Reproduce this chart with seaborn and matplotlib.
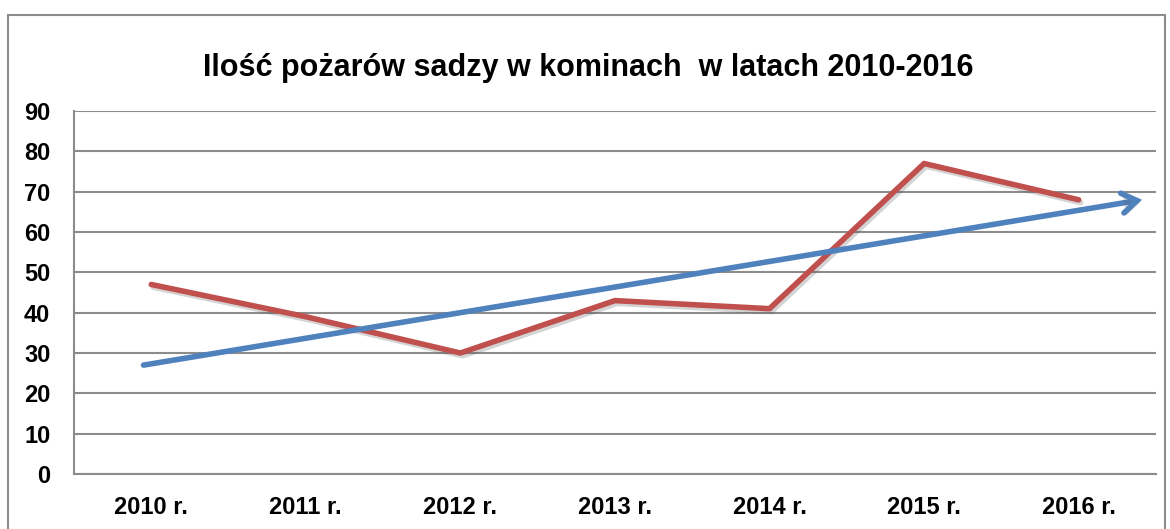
import matplotlib
matplotlib.use('Agg')
import matplotlib.pyplot as plt
import matplotlib.patheffects as pe
from matplotlib.patches import Rectangle
import numpy as np
import pandas as pd
import seaborn as sns

# dane
lata = ['2010 r.', '2011 r.', '2012 r.', '2013 r.', '2014 r.', '2015 r.', '2016 r.']
pozary = [47, 39, 30, 43, 41, 77, 68]
# strzalka trendu (poczatek i koniec, w jednostkach osi)
trend_x = [-0.05, 6.41]
trend_y = [27, 68]
y_ticks = [0, 10, 20, 30, 40, 50, 60, 70, 80, 90]

RED = '#C0504D'
BLUE = '#4F81BD'
GRID = '#8c8c8c'

sns.set_theme(style='white')
plt.rcParams['font.family'] = ['Liberation Sans Narrow', 'Liberation Sans', 'DejaVu Sans']

df = pd.DataFrame({'pos': np.arange(len(lata)), 'ilosc': pozary})

fig = plt.figure(figsize=(11.7, 5.29), dpi=100)
ax = fig.add_axes([0.0632, 0.104, 0.9248, 0.686])

shadow = [pe.SimpleLineShadow(offset=(1.5, -2), shadow_color='#555555', alpha=0.25), pe.Normal()]

sns.lineplot(data=df, x='pos', y='ilosc', color=RED, linewidth=4, ax=ax,
             solid_capstyle='round', path_effects=shadow, zorder=3)

ax.annotate('', xy=(trend_x[1], trend_y[1]), xytext=(trend_x[0], trend_y[0]),
            arrowprops=dict(arrowstyle='->,head_length=0.9,head_width=0.6',
                            color=BLUE, lw=4, capstyle='round', joinstyle='miter',
                            shrinkA=0, shrinkB=0,
                            path_effects=[pe.SimplePatchShadow(offset=(1.5, -2),
                                                               shadow_rgbFace='#555555',
                                                               alpha=0.2),
                                          pe.Normal()]),
            zorder=4)

ax.set_xlim(-0.5, len(lata) - 0.5)
ax.set_ylim(0, 90)
ax.set_yticks(y_ticks)
ax.set_xticks(df['pos'])
ax.set_xticklabels(lata)
ax.grid(axis='y', color=GRID, linewidth=1.5)
ax.set_axisbelow(True)
for s in ['top', 'right']:
    ax.spines[s].set_visible(False)
for s in ['left', 'bottom']:
    ax.spines[s].set_color(GRID)
    ax.spines[s].set_linewidth(1.5)
ax.tick_params(axis='both', length=0, labelsize=17, colors='black')
ax.tick_params(axis='y', pad=17)
ax.tick_params(axis='x', pad=16)
for lbl in ax.get_xticklabels() + ax.get_yticklabels():
    lbl.set_fontweight('bold')
ax.set_xlabel('')
ax.set_ylabel('')

fig.text(0.5025, 0.872, 'Ilość pożarów sadzy w kominach  w latach 2010-2016',
         ha='center', va='center', fontsize=22, fontweight='bold', color='black',
         family=['Liberation Sans', 'DejaVu Sans'])

fig.patches.append(Rectangle((0.007, -0.1), 0.989, 1.071, transform=fig.transFigure,
                             fill=False, edgecolor='#8c8c8c', linewidth=1.5))

plt.savefig('out.png', dpi=100)
plt.close()
